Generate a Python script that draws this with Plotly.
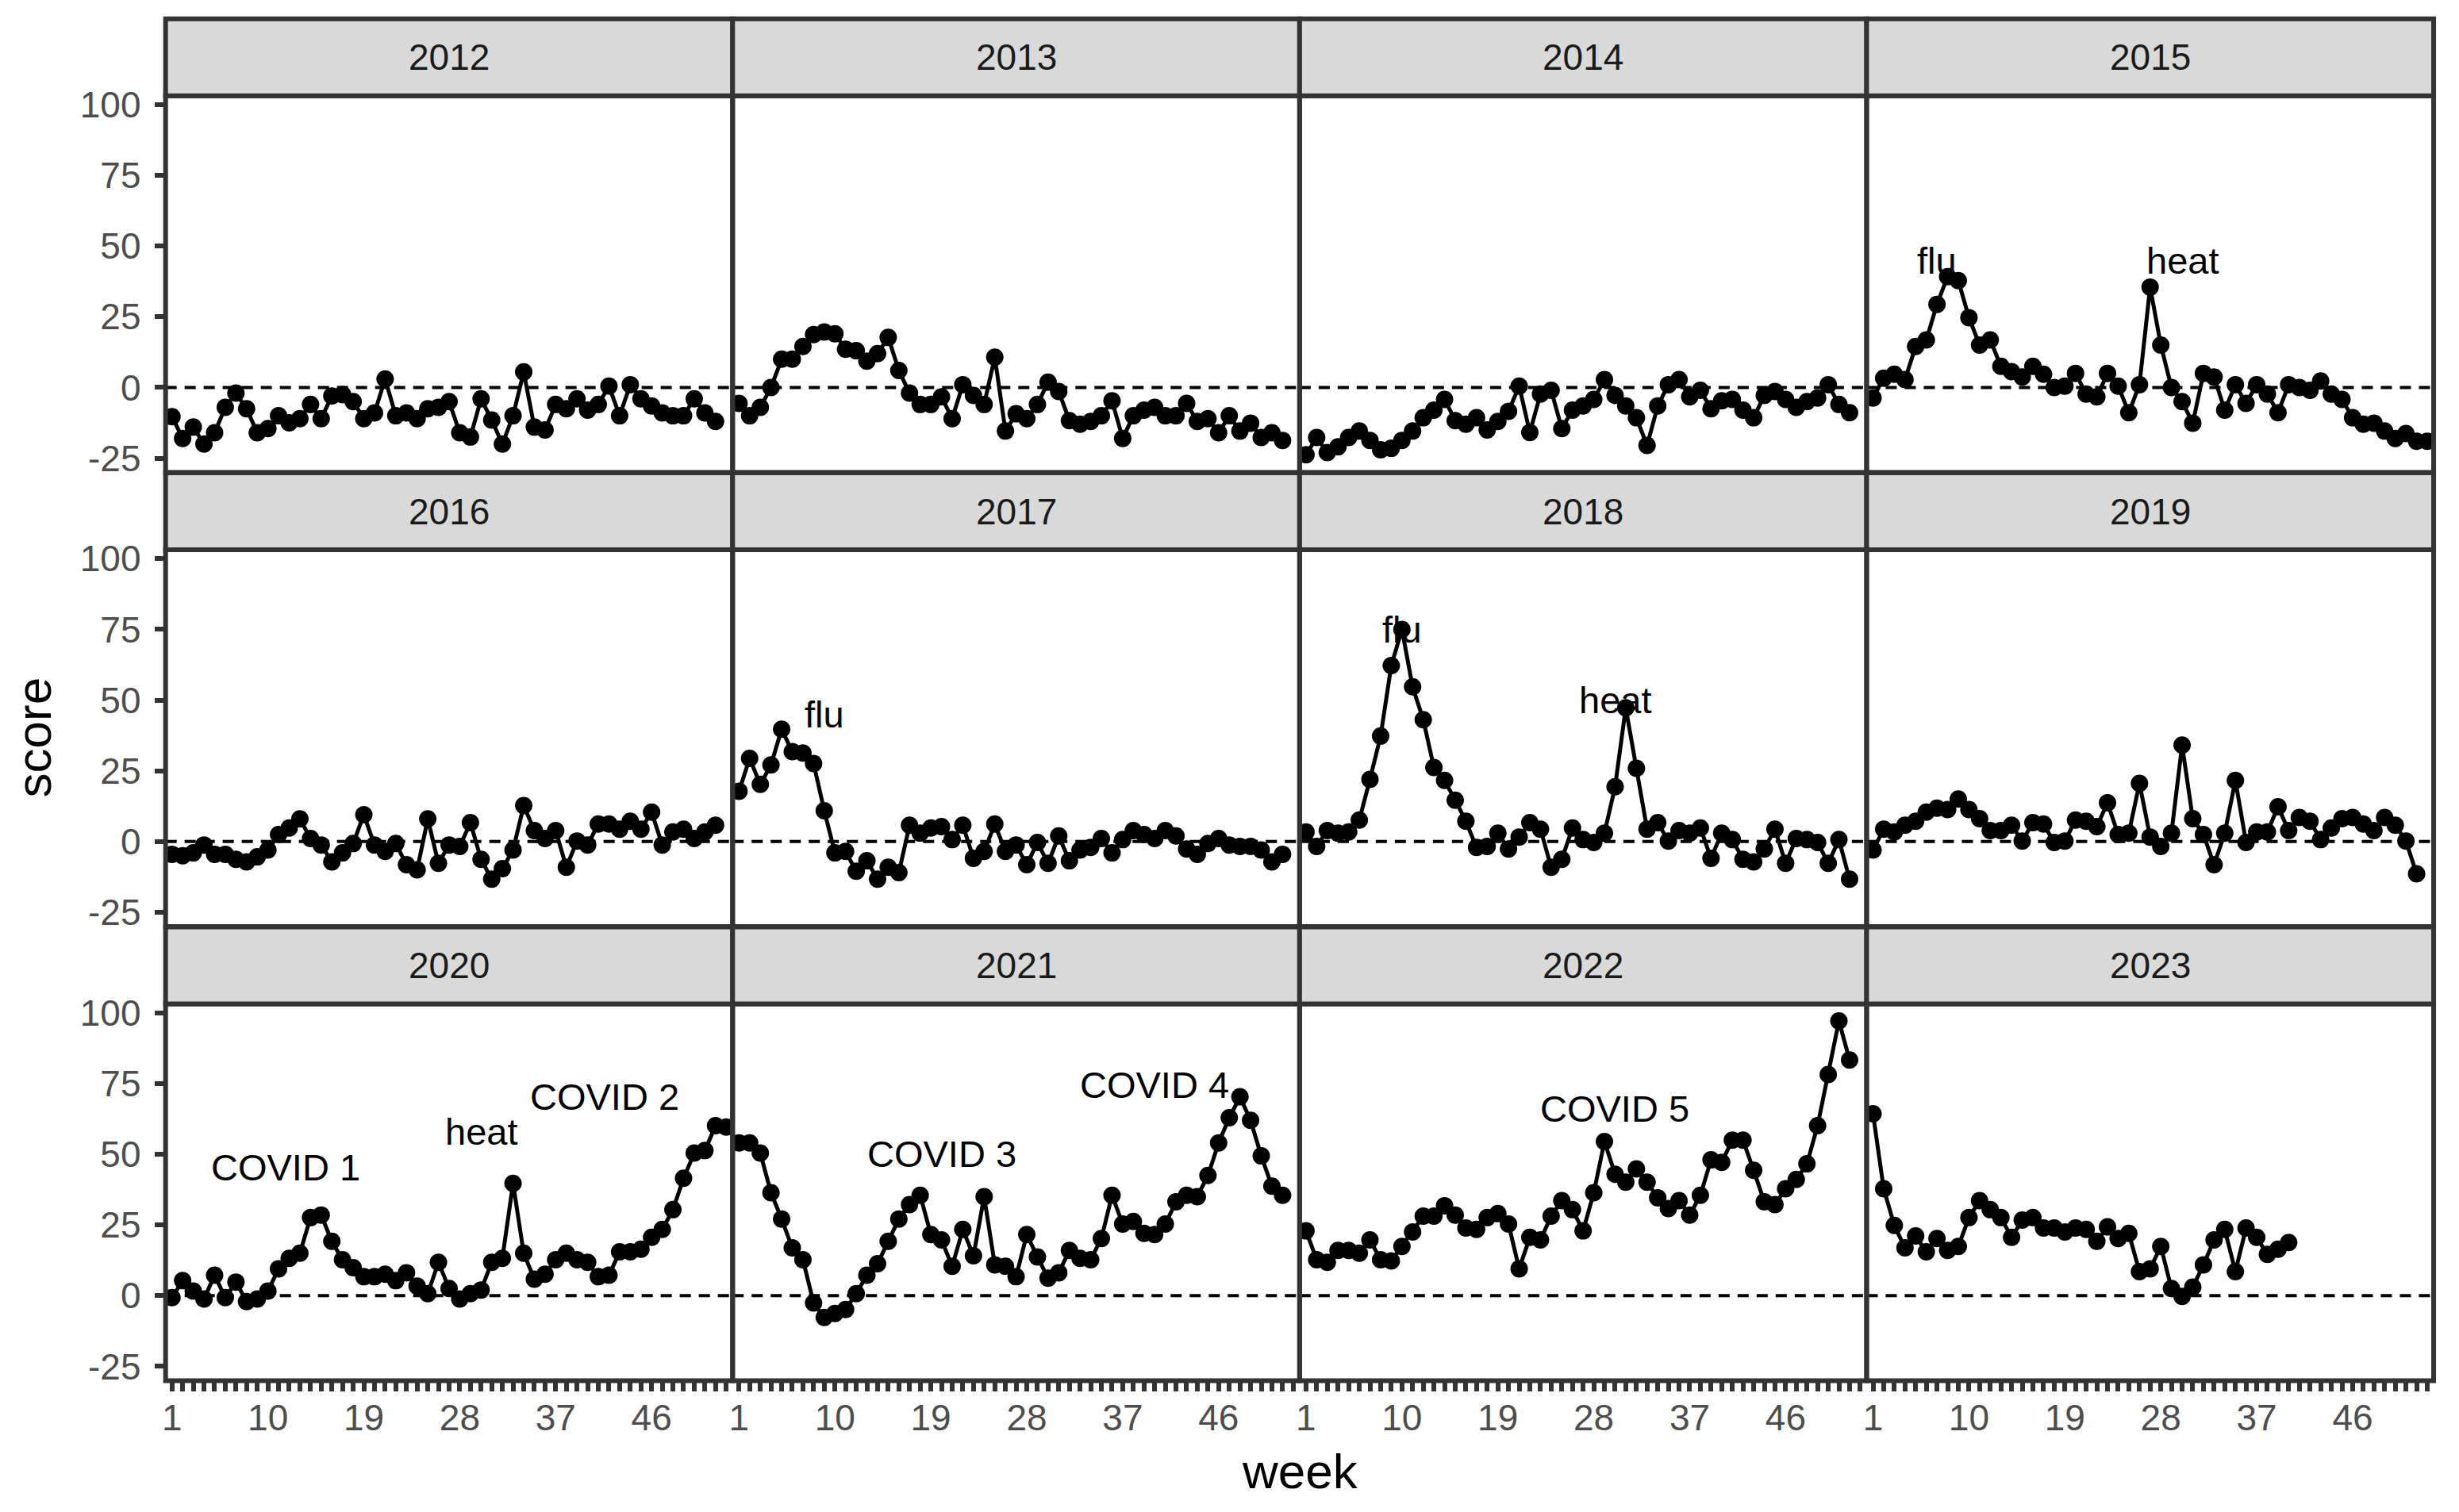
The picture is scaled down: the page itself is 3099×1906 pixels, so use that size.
import plotly.graph_objects as go

# ---------------- data ----------------
years = [2012, 2013, 2014, 2015, 2016, 2017, 2018, 2019, 2020, 2021, 2022, 2023]

s2012 = [-10.3, -18, -14, -20, -16, -7, -2, -7.5, -16, -14.5, -10, -12.5, -11, -6, -11, -3, -2.5, -5, -11, -9,
         3, -10, -9, -11, -7.5, -7, -5, -16, -17.5, -4, -11.5, -20, -10, 5.5, -14, -15, -6, -7.5, -4, -8,
         -6, 0.5, -10, 1, -4, -6.5, -9, -10, -10, -4, -9, -12]
s2013 = [-5.6, -10, -7, 0, 10, 10, 14.5, 18.7, 19.6, 19, 13.5, 13, 9.3, 12, 17.7, 6, -2, -6, -6, -3.3,
         -11, 1, -2.8, -6, 10.7, -15.4, -9.3, -11, -6, 1.9, -1.4, -11.7, -13, -12, -10, -4.7, -18, -10, -8, -7,
         -10, -10, -5.6, -12, -11, -16, -10, -15.4, -12.6, -17.7, -16, -18.7]
s2014 = [-23.8, -17.7, -23, -21, -17.7, -15.4, -18.7, -22, -21.5, -18.7, -15.4, -10.7, -8, -4.2, -11.7, -13, -10.7, -15, -12, -8.4,
         0.5, -15.9, -2.3, -1, -14.5, -8, -6.5, -4.2, 2.8, -2.8, -6.5, -10.7, -20.5, -6.5, 1, 2.8, -3.3, -1, -7.5, -4.7,
         -4.2, -8, -10.7, -2.8, -1.4, -4.2, -7, -5, -3.7, 1, -6, -8.9]
s2015 = [-3.7, 3.3, 4.7, 2.8, 14.5, 16.8, 29.4, 39.2, 37.8, 24.7, 15, 16.8, 7.5, 5.6, 3.7, 7.5, 4.7, 0, 0.5, 5,
         -2.3, -3.3, 5, 0.5, -8.9, 1, 35.5, 15, 0, -5, -12.6, 5, 3.7, -8, 1, -5.6, 1, -2.3, -8.9, 1,
         0, -1, 2.3, -2.3, -4.2, -10.7, -13, -12.6, -15.4, -18, -16.3, -19, -19]
s2016 = [-4.5, -5, -4, -1.2, -4.5, -4.5, -6.3, -7.2, -5.4, -3, 2.5, 4.8, 8, 1.1, -1.2, -7.2, -4, -0.7, 9.5, -1.2,
         -3.5, -0.7, -8.2, -10, 8, -7.7, -1.2, -1.7, 6.7, -6.3, -13.3, -9.6, -3, 12.7, 3.9, 1.1, 3.9, -9.1, 0.2, -1.2,
         6.2, 6.2, 4.4, 7.2, 4.4, 10.4, -1.2, 3.4, 4.4, 1.1, 3.4, 5.8]
s2017 = [17.8, 29.4, 20.2, 27.1, 39.7, 31.8, 31.3, 27.6, 10.9, -4, -3.5, -10.5, -6.8, -13.3, -9.1, -11, 5.8, 3, 4.8, 5.3,
         0.7, 5.8, -5.9, -3.5, 6.2, -3.5, -1.2, -8.2, -0.3, -7.7, 2, -6.8, -3, -2.1, 1.1, -4, 0.7, 3.9, 2.5, 1.1,
         3.9, 2, -2.6, -4.5, -0.7, 1.1, -1.2, -1.7, -1.7, -3, -7.2, -4.5]
s2018 = [3.4, -1.7, 3.9, 3, 3.4, 7.6, 22, 37.3, 62.2, 75, 54.7, 43.1, 26.2, 21.6, 14.6, 7.2, -2.1, -1.7, 3, -2.6,
         1.6, 6.7, 4.4, -9.1, -6.3, 4.8, 0.7, -0.3, 3, 19.4, 47.3, 25.9, 4.4, 6.7, 0.2, 3.9, 3, 4.8, -5.9, 3,
         0.7, -6.3, -7.2, -2.6, 4.4, -7.7, 1.1, 0.7, -0.3, -7.7, 0.7, -13.3]
s2019 = [-3, 4.4, 3.4, 5.8, 7.2, 10.4, 11.8, 11.3, 15, 11.3, 8.1, 3.9, 3.9, 5.8, 0.2, 6.7, 6.2, -0.3, 0.2, 7.6,
         7.2, 5.3, 13.7, 2.5, 3, 20.6, 1.6, -1.7, 3, 34.1, 8.1, 2.5, -8.2, 3, 21.6, -0.3, 3.4, 3.4, 12.3, 3.9,
         8.5, 7.2, 0.7, 4.8, 8.1, 8.5, 6.2, 3.9, 8.5, 5.8, 0.2, -11.4]
s2020 = [-0.7, 5.3, 1.6, -1.2, 7.2, -0.7, 4.8, -2.1, -1.2, 1.6, 9.5, 13.2, 15, 27.6, 28.5, 19.2, 12.7, 9.9, 6.7, 6.7,
         7.6, 5.3, 8.1, 3.4, 0.7, 11.8, 2.5, -1.2, 0.7, 2, 11.8, 13.2, 39.7, 15, 5.8, 7.6, 12.7, 15, 12.7, 11.8,
         6.7, 7.2, 15.5, 15.5, 16.4, 20.6, 23.4, 30.4, 41.5, 50.4, 51.3, 60.1, 59.6]
s2021 = [54, 54, 50.4, 36.4, 27.1, 16.9, 12.7, -2.6, -7.7, -6.3, -4.9, 0.7, 7.2, 11.3, 19.2, 27.1, 32.2, 35.5, 21.6, 19.7,
         10.4, 23.4, 14.1, 35, 10.9, 10.4, 6.7, 21.6, 13.7, 6.2, 8.1, 16, 13.2, 12.7, 20.2, 35.5, 25.3, 26.2, 22, 21.6,
         25.3, 33.2, 35.5, 35, 42.5, 54, 62.9, 70.3, 62, 49.4, 38.7, 35.5]
s2022 = [22.9, 12.7, 11.8, 16, 16, 15, 19.7, 12.7, 12.3, 17.4, 22.5, 28.1, 28.1, 31.8, 28.5, 23.9, 23.4, 27.6, 29, 25.3,
         9.5, 20.6, 19.7, 28.1, 33.6, 30.4, 22.9, 36.4, 54.5, 42.9, 40.1, 44.8, 40.1, 34.6, 30.8, 33.6, 28.5, 35.5, 48, 47.1,
         55, 55, 44.3, 33.2, 32.2, 37.8, 41.1, 46.6, 60.1, 78.2, 97.1, 83.3]
s2023 = [64.3, 37.8, 24.8, 16.9, 21.1, 15.5, 20.2, 16, 17.4, 27.6, 33.6, 30.4, 27.6, 20.6, 26.7, 27.6, 23.9, 23.9, 22.5, 23.9,
         23.4, 19.2, 24.3, 20.2, 22, 8.5, 9.5, 17.4, 2.5, -0.3, 3, 10.9, 19.7, 23.4, 8.5, 23.9, 20.6, 14.6, 16.4, 18.8]

series = [s2012, s2013, s2014, s2015, s2016, s2017, s2018, s2019, s2020, s2021, s2022, s2023]

# event labels
label_year = [2015, 2015, 2017, 2018, 2018, 2020, 2020, 2020, 2021, 2021, 2022]
label_week = [7, 30, 9, 10, 30, 11.7, 30, 41.6, 20, 40, 30]
label_score = [45, 45, 45, 75, 50, 45.5, 58, 70.3, 50, 74.5, 66]
label_text = ["flu", "heat", "flu", "flu", "heat", "COVID 1", "heat", "COVID 2", "COVID 3", "COVID 4", "COVID 5"]

week_ticks = list(range(1, 54))
week_ticklabels = [str(w) if (w - 1) % 9 == 0 else "" for w in week_ticks]
score_ticks = [-25, 0, 25, 50, 75, 100]

# ---------------- layout geometry (screen pixels) ----------------
SCREEN_W, SCREEN_H = 3099, 1906
OFF = 8                      # default page body margin
W, H = SCREEN_W - 2 * OFF, SCREEN_H - 2 * OFF
V_A, V_B = 14.4, 0.988       # vertical calibration of the captured page
PX_L = 204.0
COL_W = 715.75
PANEL_T0 = 120.0
ROW_STEP = 572.5
PANEL_H = 475.0
STRIP_H = 97.0

FONT = "Liberation Sans, Arial, sans-serif"
BORDER = "#333333"
LW = 6
TXT = 46
TITLE = 62
XRANGE = [0.4, 53.6]

def fx(px):
    return (px - OFF) / W

def fy(py):
    s = (py - V_A) / V_B
    return 1 - (s - OFF) / H

fig = go.Figure()
layout = dict(
    width=W, height=H,
    margin=dict(l=0, r=0, t=0, b=0),
    paper_bgcolor="white", plot_bgcolor="rgba(0,0,0,0)",
    showlegend=False,
    font=dict(family=FONT, color="black"),
)
shapes = []
annotations = []

for i, (yr, vals) in enumerate(zip(years, series)):
    r, c = divmod(i, 4)
    n = i + 1
    xl = PX_L + c * COL_W
    xr = xl + COL_W
    yt = PANEL_T0 + r * ROW_STEP
    yb = yt + PANEL_H
    xa = "x" if n == 1 else f"x{n}"
    ya = "y" if n == 1 else f"y{n}"
    xkey = "xaxis" if n == 1 else f"xaxis{n}"
    ykey = "yaxis" if n == 1 else f"yaxis{n}"
    bottom = (r == 2)
    left = (c == 0)
    # main x axis: carries the week labels
    layout[xkey] = dict(
        domain=[fx(xl), fx(xr)], anchor=ya, range=XRANGE,
        showgrid=False, zeroline=False, showline=False,
        tickmode="array", tickvals=week_ticks, ticktext=week_ticklabels,
        ticks="",
        showticklabels=bottom, tickfont=dict(size=TXT, color="#4D4D4D", family=FONT),
        ticklabelstandoff=16, fixedrange=True,
    )
    if bottom:
        # overlay x axis: draws the weekly tick marks only
        m = n + 12
        layout[f"xaxis{m}"] = dict(
            overlaying=xa, anchor=ya, range=XRANGE, side="bottom",
            showgrid=False, zeroline=False, showline=False,
            tickmode="array", tickvals=week_ticks,
            ticks="outside", ticklen=13, tickwidth=LW, tickcolor=BORDER,
            showticklabels=False, fixedrange=True,
        )
    layout[ykey] = dict(
        domain=[fy(yb), fy(yt)], anchor=xa, range=[-30.05, 103.15],
        showgrid=False, zeroline=False, showline=False,
        tickmode="array", tickvals=score_ticks, ticktext=[str(v) for v in score_ticks],
        ticks="outside" if left else "", ticklen=13, tickwidth=LW, tickcolor=BORDER,
        showticklabels=left, tickfont=dict(size=TXT, color="#4D4D4D", family=FONT),
        ticklabelstandoff=8, fixedrange=True,
    )
    weeks = list(range(1, len(vals) + 1))
    fig.add_trace(go.Scatter(
        x=weeks, y=vals, xaxis=xa, yaxis=ya, mode="lines+markers",
        line=dict(color="black", width=5),
        marker=dict(color="black", size=22),
        hoverinfo="x+y",
    ))
    if bottom:
        # invisible trace so the tick-mark overlay axis is rendered
        fig.add_trace(go.Scatter(
            x=[XRANGE[0]], y=[0], xaxis=f"x{n + 12}", yaxis=ya, mode="markers",
            marker=dict(opacity=0, size=1), hoverinfo="skip", showlegend=False,
        ))
    # dashed zero reference line
    shapes.append(dict(type="line", xref=f"{xa} domain", yref=ya, x0=0, x1=1, y0=0, y1=0,
                       line=dict(color="black", width=4, dash="14px,10px"), layer="below"))
    # panel border
    shapes.append(dict(type="rect", xref="paper", yref="paper", x0=fx(xl), x1=fx(xr), y0=fy(yb), y1=fy(yt),
                       line=dict(color=BORDER, width=LW), fillcolor="rgba(0,0,0,0)", layer="above"))
    # strip
    shapes.append(dict(type="rect", xref="paper", yref="paper", x0=fx(xl), x1=fx(xr),
                       y0=fy(yt), y1=fy(yt - STRIP_H),
                       line=dict(color=BORDER, width=LW), fillcolor="#D9D9D9", layer="above"))
    annotations.append(dict(text=str(yr), xref="paper", yref="paper",
                            x=fx((xl + xr) / 2), y=fy(yt - STRIP_H / 2),
                            xanchor="center", yanchor="middle", showarrow=False,
                            font=dict(size=TXT, color="#1A1A1A", family=FONT)))

# event labels placed in data coordinates
for yr, wk, sc, tx in zip(label_year, label_week, label_score, label_text):
    n = years.index(yr) + 1
    xa = "x" if n == 1 else f"x{n}"
    ya = "y" if n == 1 else f"y{n}"
    annotations.append(dict(text=tx, xref=xa, yref=ya, x=wk, y=sc, showarrow=False,
                            xanchor="center", yanchor="middle", yshift=0,
                            font=dict(size=47, color="black", family=FONT)))

# axis titles
annotations.append(dict(text="score", xref="paper", yref="paper", x=fx(38), y=fy(929),
                        textangle=-90, showarrow=False, xanchor="center", yanchor="middle",
                        font=dict(size=TITLE, color="black", family=FONT)))
annotations.append(dict(text="week", xref="paper", yref="paper", x=fx(1636), y=fy(1854),
                        showarrow=False, xanchor="center", yanchor="middle",
                        font=dict(size=TITLE, color="black", family=FONT)))

layout["shapes"] = shapes
layout["annotations"] = annotations
fig.update_layout(**layout)
fig.write_html("out.html")
